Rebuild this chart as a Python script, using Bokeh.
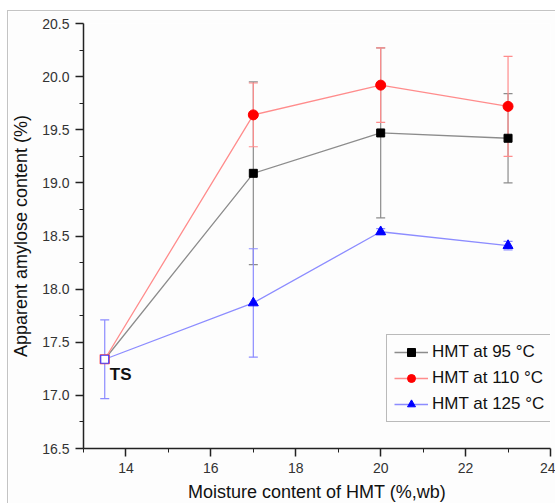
from bokeh.plotting import figure
from bokeh.models import (ColumnDataSource, Whisker, TeeHead, FixedTicker, NumeralTickFormatter,
                          Legend, LegendItem, Label, Range1d)
from bokeh.embed import file_html
from bokeh.resources import INLINE

# ---- data ----
moisture = [13.5, 17, 20, 23]
hmt95 = [17.34, 19.09, 19.47, 19.42]
hmt95_err = [0.37, 0.86, 0.80, 0.42]
hmt110 = [17.34, 19.64, 19.92, 19.72]
hmt110_err = [0.37, 0.30, 0.35, 0.47]
hmt125 = [17.34, 17.87, 18.54, 18.41]
hmt125_err = [0.37, 0.51, 0.03, 0.04]
series_names = ["HMT at 95 °C", "HMT at 110 °C", "HMT at 125 °C"]
x_ticks = [14, 16, 18, 20, 22, 24]
x_minor = [13, 15, 17, 19, 21, 23]
y_ticks = [16.5, 17.0, 17.5, 18.0, 18.5, 19.0, 19.5, 20.0, 20.5]
y_minor = [16.75, 17.25, 17.75, 18.25, 18.75, 19.25, 19.75, 20.25]

FONT = "Liberation Sans"

p = figure(width=548, height=493, output_backend="svg", toolbar_location=None,
           x_range=Range1d(13, 24), y_range=Range1d(16.5, 20.5),
           min_border_left=71, min_border_right=6, min_border_top=12, min_border_bottom=56)
p.styles = {"margin-left": "7px", "margin-top": "10px",
            "border-left": "1px solid #c4c4c4", "border-top": "1px solid #c4c4c4"}
p.background_fill_color = "#fdfdfd"
p.border_fill_color = "#fdfdfd"
p.outline_line_color = None
p.grid.visible = False

for ax in (p.xaxis[0], p.yaxis[0]):
    ax.axis_line_color = "#222222"
    ax.axis_line_width = 1.5
    ax.major_tick_line_color = "#222222"
    ax.minor_tick_line_color = "#222222"
    ax.major_tick_line_width = 1.5
    ax.major_tick_out = 8
    ax.major_tick_in = 0
    ax.minor_tick_out = 4
    ax.minor_tick_in = 0
    ax.major_label_text_font = FONT
    ax.major_label_text_font_size = "14px"
    ax.major_label_text_color = "#333333"
    ax.axis_label_text_font = FONT
    ax.axis_label_text_font_size = "18px"
    ax.axis_label_text_font_style = "normal"
    ax.axis_label_text_color = "#111111"

p.xaxis.ticker = FixedTicker(ticks=x_ticks, minor_ticks=x_minor)
p.yaxis.ticker = FixedTicker(ticks=y_ticks, minor_ticks=y_minor)
p.yaxis.formatter = NumeralTickFormatter(format="0.0")
p.xaxis.axis_label = "Moisture content of HMT (%,wb)"
p.yaxis.axis_label = "Apparent amylose content (%)"
p.xaxis.axis_label_standoff = 6
p.yaxis.axis_label_standoff = 8
p.xaxis.major_label_standoff = 6
p.yaxis.major_label_standoff = 6

line_colors = ["#8c8c8c", "#ff8c8c", "#8c8cff"]
mark_colors = ["#000000", "#ff0000", "#0000ff"]
markers = ["square", "circle", "triangle"]
sizes = [8, 10, 10]
values = [hmt95, hmt110, hmt125]
errors = [hmt95_err, hmt110_err, hmt125_err]

items = []
for i in range(3):
    ys = values[i]
    es = errors[i]
    src = ColumnDataSource(dict(x=moisture, y=ys))
    esrc = ColumnDataSource(dict(x=moisture[1:],
                                 lo=[y - e for y, e in zip(ys[1:], es[1:])],
                                 hi=[y + e for y, e in zip(ys[1:], es[1:])]))
    w = Whisker(base="x", lower="lo", upper="hi", source=esrc, dimension="height",
                line_color=line_colors[i], line_width=1.2,
                upper_head=TeeHead(size=9, line_color=line_colors[i], line_width=1.2),
                lower_head=TeeHead(size=9, line_color=line_colors[i], line_width=1.2))
    p.add_layout(w)
    ln = p.line("x", "y", source=src, line_color=line_colors[i], line_width=1.3)
    msrc = ColumnDataSource(dict(x=moisture[1:], y=ys[1:]))
    mk = p.scatter("x", "y", source=msrc, marker=markers[i], size=sizes[i],
                   fill_color=mark_colors[i], line_color=mark_colors[i])
    items.append(LegendItem(label=series_names[i], renderers=[ln, mk]))

# TS point (native starch) shared by all series
ts_src = ColumnDataSource(dict(x=[moisture[0]], lo=[hmt125[0] - hmt125_err[0]], hi=[hmt125[0] + hmt125_err[0]]))
p.add_layout(Whisker(base="x", lower="lo", upper="hi", source=ts_src, dimension="height",
                     line_color="#8c8cff", line_width=1.2,
                     upper_head=TeeHead(size=9, line_color="#8c8cff", line_width=1.2),
                     lower_head=TeeHead(size=9, line_color="#8c8cff", line_width=1.2)))
p.scatter([moisture[0]], [hmt110[0]], marker="square", size=9, fill_color="white", line_color="#ff4040", line_width=1.2)
p.scatter([moisture[0]], [hmt125[0]], marker="square", size=8, fill_color=None, line_color="#4040ff", line_width=1.2)
p.add_layout(Label(x=13.62, y=17.2, text="TS", text_font=FONT, text_font_size="17px",
                   text_font_style="bold", text_baseline="middle", text_color="#111111"))

legend = Legend(items=items, location=(303, 26), orientation="vertical",
                label_text_font=FONT, label_text_font_size="17px", label_text_color="#111111",
                border_line_color="#777777", border_line_width=1, background_fill_color="#fdfdfd",
                background_fill_alpha=1, glyph_width=34, glyph_height=20, label_standoff=4,
                spacing=6, padding=7, margin=0)
p.add_layout(legend, "center")

open("out.html", "w").write(file_html(p, INLINE))
